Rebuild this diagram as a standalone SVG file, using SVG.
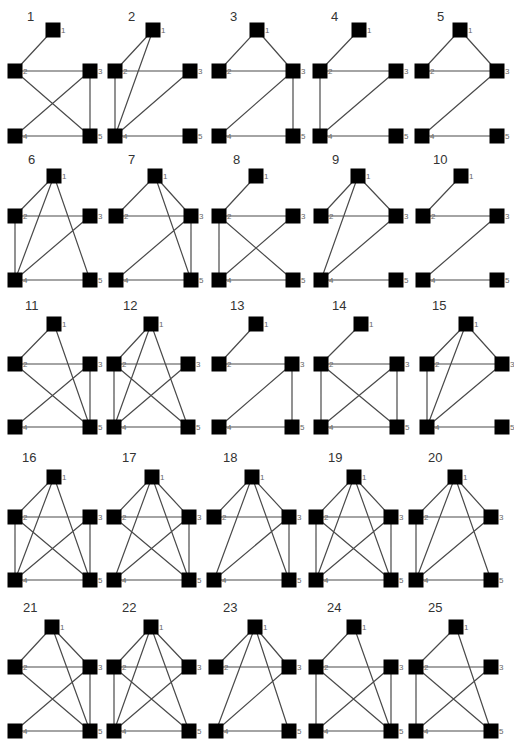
<svg xmlns="http://www.w3.org/2000/svg" width="514" height="746" viewBox="0 0 514 746">
<style>
.bg{fill:#ffffff}
.e{fill:none;stroke:#4a4a4a;stroke-width:1.2}
.n rect{fill:#000}
.n text{font-family:"Liberation Sans",Arial,sans-serif;font-size:8px;fill:#666}
.t{font-family:"Liberation Sans",Arial,sans-serif;font-size:13px;fill:#333}
</style>
<rect class="bg" x="0" y="0" width="514" height="746"/>
<g id="titles">
<text class="t" x="27" y="21">1</text><text class="t" x="128" y="21">2</text><text class="t" x="230" y="21">3</text><text class="t" x="331" y="21">4</text><text class="t" x="437" y="21">5</text>
<text class="t" x="28" y="164">6</text><text class="t" x="128" y="164">7</text><text class="t" x="233" y="164">8</text><text class="t" x="332" y="164">9</text><text class="t" x="433" y="164">10</text>
<text class="t" x="25" y="310">11</text><text class="t" x="123" y="310">12</text><text class="t" x="230" y="310">13</text><text class="t" x="332" y="310">14</text><text class="t" x="432" y="310">15</text>
<text class="t" x="22" y="462">16</text><text class="t" x="122" y="462">17</text><text class="t" x="223" y="462">18</text><text class="t" x="328" y="462">19</text><text class="t" x="428" y="462">20</text>
<text class="t" x="23" y="612">21</text><text class="t" x="122" y="612">22</text><text class="t" x="223" y="612">23</text><text class="t" x="327" y="612">24</text><text class="t" x="428" y="612">25</text>
</g>
<g id="connectors">
<path id="e1" class="e" d="M53,30L15,71M15,71L90,71M15,71L90,136M90,71L15,136M90,71L90,136M15,136L90,136"/>
<path id="e2" class="e" d="M153,30L115,71M153,30L115,136M115,71L190,71M115,71L115,136M190,71L115,136M115,136L190,136"/>
<path id="e3" class="e" d="M257,30L219,71M257,30L293,71M219,71L293,71M293,71L219,136M293,71L293,136M219,136L293,136"/>
<path id="e4" class="e" d="M359,30L320,71M320,71L396,71M320,71L320,136M396,71L320,136M320,136L396,136"/>
<path id="e5" class="e" d="M460,30L422,71M460,30L497,71M422,71L497,71M497,71L422,136M422,136L497,136"/>
<path id="e6" class="e" d="M54,176L15,216M54,176L15,280M54,176L90,280M15,216L90,216M15,216L15,280M90,216L15,280M15,280L90,280"/>
<path id="e7" class="e" d="M155,176L116,216M155,176L191,216M155,176L191,280M116,216L191,216M191,216L116,280M191,216L191,280M116,280L191,280"/>
<path id="e8" class="e" d="M256,176L219,216M219,216L293,216M219,216L219,280M219,216L293,280M293,216L219,280M219,280L293,280"/>
<path id="e9" class="e" d="M358,176L321,216M358,176L396,216M358,176L321,280M321,216L396,216M396,216L321,280M321,280L396,280"/>
<path id="e10" class="e" d="M461,176L423,216M423,216L497,216M497,216L423,280M423,280L497,280"/>
<path id="e11" class="e" d="M54,324L15,364M54,324L90,427M15,364L90,364M15,364L90,427M90,364L15,427M90,364L90,427M15,427L90,427"/>
<path id="e12" class="e" d="M151,324L114,364M151,324L114,427M151,324L188,427M114,364L188,364M114,364L114,427M114,364L188,427M188,364L114,427M114,427L188,427"/>
<path id="e13" class="e" d="M256,324L219,364M219,364L292,364M292,364L219,427M292,364L292,427M219,427L292,427"/>
<path id="e14" class="e" d="M361,324L321,364M321,364L397,364M321,364L321,427M321,364L397,427M397,364L321,427M397,364L397,427M321,427L397,427"/>
<path id="e15" class="e" d="M466,324L427,364M466,324L502,364M466,324L427,427M427,364L502,364M427,364L427,427M502,364L427,427M427,427L502,427"/>
<path id="e16" class="e" d="M54,477L15,517M54,477L15,580M54,477L90,580M15,517L90,517M15,517L15,580M15,517L90,580M90,517L15,580M90,517L90,580M15,580L90,580"/>
<path id="e17" class="e" d="M152,477L114,517M152,477L189,517M152,477L114,580M152,477L189,580M114,517L189,517M114,517L189,580M189,517L114,580M189,517L189,580M114,580L189,580"/>
<path id="e18" class="e" d="M252,477L214,517M252,477L289,517M252,477L214,580M252,477L289,580M214,517L289,517M289,517L214,580M289,517L289,580M214,580L289,580"/>
<path id="e19" class="e" d="M354,477L316,517M354,477L391,517M354,477L316,580M354,477L391,580M316,517L391,517M316,517L316,580M316,517L391,580M391,517L316,580M391,517L391,580M316,580L391,580"/>
<path id="e20" class="e" d="M455,477L416,517M455,477L491,517M455,477L416,580M455,477L491,580M416,517L491,517M416,517L416,580M491,517L416,580M416,580L491,580"/>
<path id="e21" class="e" d="M52,627L15,667M52,627L90,667M52,627L90,731M15,667L90,667M15,667L90,731M90,667L15,731M90,667L90,731M15,731L90,731"/>
<path id="e22" class="e" d="M151,627L114,667M151,627L189,667M151,627L114,731M151,627L189,731M114,667L189,667M114,667L114,731M114,667L189,731M189,667L114,731M114,731L189,731"/>
<path id="e23" class="e" d="M255,627L216,667M255,627L289,667M255,627L216,731M255,627L289,731M216,667L289,667M289,667L216,731M216,731L289,731"/>
<path id="e24" class="e" d="M354,627L316,667M354,627L391,731M316,667L391,667M316,667L316,731M316,667L391,731M391,667L316,731M391,667L391,731M316,731L391,731"/>
<path id="e25" class="e" d="M456,627L416,667M456,627L491,731M416,667L491,667M416,667L416,731M416,667L491,731M491,667L416,731M416,731L491,731"/>
</g>
<g id="nodes">
<g id="g1n1" class="n"><rect x="45.5" y="22.5" width="15" height="15"/><text x="61" y="33">1</text></g>
<g id="g1n2" class="n"><rect x="7.5" y="63.5" width="15" height="15"/><text x="23" y="74">2</text></g>
<g id="g1n3" class="n"><rect x="82.5" y="63.5" width="15" height="15"/><text x="98" y="74">3</text></g>
<g id="g1n4" class="n"><rect x="7.5" y="128.5" width="15" height="15"/><text x="23" y="139">4</text></g>
<g id="g1n5" class="n"><rect x="82.5" y="128.5" width="15" height="15"/><text x="98" y="139">5</text></g>
<g id="g2n1" class="n"><rect x="145.5" y="22.5" width="15" height="15"/><text x="161" y="33">1</text></g>
<g id="g2n2" class="n"><rect x="107.5" y="63.5" width="15" height="15"/><text x="123" y="74">2</text></g>
<g id="g2n3" class="n"><rect x="182.5" y="63.5" width="15" height="15"/><text x="198" y="74">3</text></g>
<g id="g2n4" class="n"><rect x="107.5" y="128.5" width="15" height="15"/><text x="123" y="139">4</text></g>
<g id="g2n5" class="n"><rect x="182.5" y="128.5" width="15" height="15"/><text x="198" y="139">5</text></g>
<g id="g3n1" class="n"><rect x="249.5" y="22.5" width="15" height="15"/><text x="265" y="33">1</text></g>
<g id="g3n2" class="n"><rect x="211.5" y="63.5" width="15" height="15"/><text x="227" y="74">2</text></g>
<g id="g3n3" class="n"><rect x="285.5" y="63.5" width="15" height="15"/><text x="301" y="74">3</text></g>
<g id="g3n4" class="n"><rect x="211.5" y="128.5" width="15" height="15"/><text x="227" y="139">4</text></g>
<g id="g3n5" class="n"><rect x="285.5" y="128.5" width="15" height="15"/><text x="301" y="139">5</text></g>
<g id="g4n1" class="n"><rect x="351.5" y="22.5" width="15" height="15"/><text x="367" y="33">1</text></g>
<g id="g4n2" class="n"><rect x="312.5" y="63.5" width="15" height="15"/><text x="328" y="74">2</text></g>
<g id="g4n3" class="n"><rect x="388.5" y="63.5" width="15" height="15"/><text x="404" y="74">3</text></g>
<g id="g4n4" class="n"><rect x="312.5" y="128.5" width="15" height="15"/><text x="328" y="139">4</text></g>
<g id="g4n5" class="n"><rect x="388.5" y="128.5" width="15" height="15"/><text x="404" y="139">5</text></g>
<g id="g5n1" class="n"><rect x="452.5" y="22.5" width="15" height="15"/><text x="468" y="33">1</text></g>
<g id="g5n2" class="n"><rect x="414.5" y="63.5" width="15" height="15"/><text x="430" y="74">2</text></g>
<g id="g5n3" class="n"><rect x="489.5" y="63.5" width="15" height="15"/><text x="505" y="74">3</text></g>
<g id="g5n4" class="n"><rect x="414.5" y="128.5" width="15" height="15"/><text x="430" y="139">4</text></g>
<g id="g5n5" class="n"><rect x="489.5" y="128.5" width="15" height="15"/><text x="505" y="139">5</text></g>
<g id="g6n1" class="n"><rect x="46.5" y="168.5" width="15" height="15"/><text x="62" y="179">1</text></g>
<g id="g6n2" class="n"><rect x="7.5" y="208.5" width="15" height="15"/><text x="23" y="219">2</text></g>
<g id="g6n3" class="n"><rect x="82.5" y="208.5" width="15" height="15"/><text x="98" y="219">3</text></g>
<g id="g6n4" class="n"><rect x="7.5" y="272.5" width="15" height="15"/><text x="23" y="283">4</text></g>
<g id="g6n5" class="n"><rect x="82.5" y="272.5" width="15" height="15"/><text x="98" y="283">5</text></g>
<g id="g7n1" class="n"><rect x="147.5" y="168.5" width="15" height="15"/><text x="163" y="179">1</text></g>
<g id="g7n2" class="n"><rect x="108.5" y="208.5" width="15" height="15"/><text x="124" y="219">2</text></g>
<g id="g7n3" class="n"><rect x="183.5" y="208.5" width="15" height="15"/><text x="199" y="219">3</text></g>
<g id="g7n4" class="n"><rect x="108.5" y="272.5" width="15" height="15"/><text x="124" y="283">4</text></g>
<g id="g7n5" class="n"><rect x="183.5" y="272.5" width="15" height="15"/><text x="199" y="283">5</text></g>
<g id="g8n1" class="n"><rect x="248.5" y="168.5" width="15" height="15"/><text x="264" y="179">1</text></g>
<g id="g8n2" class="n"><rect x="211.5" y="208.5" width="15" height="15"/><text x="227" y="219">2</text></g>
<g id="g8n3" class="n"><rect x="285.5" y="208.5" width="15" height="15"/><text x="301" y="219">3</text></g>
<g id="g8n4" class="n"><rect x="211.5" y="272.5" width="15" height="15"/><text x="227" y="283">4</text></g>
<g id="g8n5" class="n"><rect x="285.5" y="272.5" width="15" height="15"/><text x="301" y="283">5</text></g>
<g id="g9n1" class="n"><rect x="350.5" y="168.5" width="15" height="15"/><text x="366" y="179">1</text></g>
<g id="g9n2" class="n"><rect x="313.5" y="208.5" width="15" height="15"/><text x="329" y="219">2</text></g>
<g id="g9n3" class="n"><rect x="388.5" y="208.5" width="15" height="15"/><text x="404" y="219">3</text></g>
<g id="g9n4" class="n"><rect x="313.5" y="272.5" width="15" height="15"/><text x="329" y="283">4</text></g>
<g id="g9n5" class="n"><rect x="388.5" y="272.5" width="15" height="15"/><text x="404" y="283">5</text></g>
<g id="g10n1" class="n"><rect x="453.5" y="168.5" width="15" height="15"/><text x="469" y="179">1</text></g>
<g id="g10n2" class="n"><rect x="415.5" y="208.5" width="15" height="15"/><text x="431" y="219">2</text></g>
<g id="g10n3" class="n"><rect x="489.5" y="208.5" width="15" height="15"/><text x="505" y="219">3</text></g>
<g id="g10n4" class="n"><rect x="415.5" y="272.5" width="15" height="15"/><text x="431" y="283">4</text></g>
<g id="g10n5" class="n"><rect x="489.5" y="272.5" width="15" height="15"/><text x="505" y="283">5</text></g>
<g id="g11n1" class="n"><rect x="46.5" y="316.5" width="15" height="15"/><text x="62" y="327">1</text></g>
<g id="g11n2" class="n"><rect x="7.5" y="356.5" width="15" height="15"/><text x="23" y="367">2</text></g>
<g id="g11n3" class="n"><rect x="82.5" y="356.5" width="15" height="15"/><text x="98" y="367">3</text></g>
<g id="g11n4" class="n"><rect x="7.5" y="419.5" width="15" height="15"/><text x="23" y="430">4</text></g>
<g id="g11n5" class="n"><rect x="82.5" y="419.5" width="15" height="15"/><text x="98" y="430">5</text></g>
<g id="g12n1" class="n"><rect x="143.5" y="316.5" width="15" height="15"/><text x="159" y="327">1</text></g>
<g id="g12n2" class="n"><rect x="106.5" y="356.5" width="15" height="15"/><text x="122" y="367">2</text></g>
<g id="g12n3" class="n"><rect x="180.5" y="356.5" width="15" height="15"/><text x="196" y="367">3</text></g>
<g id="g12n4" class="n"><rect x="106.5" y="419.5" width="15" height="15"/><text x="122" y="430">4</text></g>
<g id="g12n5" class="n"><rect x="180.5" y="419.5" width="15" height="15"/><text x="196" y="430">5</text></g>
<g id="g13n1" class="n"><rect x="248.5" y="316.5" width="15" height="15"/><text x="264" y="327">1</text></g>
<g id="g13n2" class="n"><rect x="211.5" y="356.5" width="15" height="15"/><text x="227" y="367">2</text></g>
<g id="g13n3" class="n"><rect x="284.5" y="356.5" width="15" height="15"/><text x="300" y="367">3</text></g>
<g id="g13n4" class="n"><rect x="211.5" y="419.5" width="15" height="15"/><text x="227" y="430">4</text></g>
<g id="g13n5" class="n"><rect x="284.5" y="419.5" width="15" height="15"/><text x="300" y="430">5</text></g>
<g id="g14n1" class="n"><rect x="353.5" y="316.5" width="15" height="15"/><text x="369" y="327">1</text></g>
<g id="g14n2" class="n"><rect x="313.5" y="356.5" width="15" height="15"/><text x="329" y="367">2</text></g>
<g id="g14n3" class="n"><rect x="389.5" y="356.5" width="15" height="15"/><text x="405" y="367">3</text></g>
<g id="g14n4" class="n"><rect x="313.5" y="419.5" width="15" height="15"/><text x="329" y="430">4</text></g>
<g id="g14n5" class="n"><rect x="389.5" y="419.5" width="15" height="15"/><text x="405" y="430">5</text></g>
<g id="g15n1" class="n"><rect x="458.5" y="316.5" width="15" height="15"/><text x="474" y="327">1</text></g>
<g id="g15n2" class="n"><rect x="419.5" y="356.5" width="15" height="15"/><text x="435" y="367">2</text></g>
<g id="g15n3" class="n"><rect x="494.5" y="356.5" width="15" height="15"/><text x="510" y="367">3</text></g>
<g id="g15n4" class="n"><rect x="419.5" y="419.5" width="15" height="15"/><text x="435" y="430">4</text></g>
<g id="g15n5" class="n"><rect x="494.5" y="419.5" width="15" height="15"/><text x="510" y="430">5</text></g>
<g id="g16n1" class="n"><rect x="46.5" y="469.5" width="15" height="15"/><text x="62" y="480">1</text></g>
<g id="g16n2" class="n"><rect x="7.5" y="509.5" width="15" height="15"/><text x="23" y="520">2</text></g>
<g id="g16n3" class="n"><rect x="82.5" y="509.5" width="15" height="15"/><text x="98" y="520">3</text></g>
<g id="g16n4" class="n"><rect x="7.5" y="572.5" width="15" height="15"/><text x="23" y="583">4</text></g>
<g id="g16n5" class="n"><rect x="82.5" y="572.5" width="15" height="15"/><text x="98" y="583">5</text></g>
<g id="g17n1" class="n"><rect x="144.5" y="469.5" width="15" height="15"/><text x="160" y="480">1</text></g>
<g id="g17n2" class="n"><rect x="106.5" y="509.5" width="15" height="15"/><text x="122" y="520">2</text></g>
<g id="g17n3" class="n"><rect x="181.5" y="509.5" width="15" height="15"/><text x="197" y="520">3</text></g>
<g id="g17n4" class="n"><rect x="106.5" y="572.5" width="15" height="15"/><text x="122" y="583">4</text></g>
<g id="g17n5" class="n"><rect x="181.5" y="572.5" width="15" height="15"/><text x="197" y="583">5</text></g>
<g id="g18n1" class="n"><rect x="244.5" y="469.5" width="15" height="15"/><text x="260" y="480">1</text></g>
<g id="g18n2" class="n"><rect x="206.5" y="509.5" width="15" height="15"/><text x="222" y="520">2</text></g>
<g id="g18n3" class="n"><rect x="281.5" y="509.5" width="15" height="15"/><text x="297" y="520">3</text></g>
<g id="g18n4" class="n"><rect x="206.5" y="572.5" width="15" height="15"/><text x="222" y="583">4</text></g>
<g id="g18n5" class="n"><rect x="281.5" y="572.5" width="15" height="15"/><text x="297" y="583">5</text></g>
<g id="g19n1" class="n"><rect x="346.5" y="469.5" width="15" height="15"/><text x="362" y="480">1</text></g>
<g id="g19n2" class="n"><rect x="308.5" y="509.5" width="15" height="15"/><text x="324" y="520">2</text></g>
<g id="g19n3" class="n"><rect x="383.5" y="509.5" width="15" height="15"/><text x="399" y="520">3</text></g>
<g id="g19n4" class="n"><rect x="308.5" y="572.5" width="15" height="15"/><text x="324" y="583">4</text></g>
<g id="g19n5" class="n"><rect x="383.5" y="572.5" width="15" height="15"/><text x="399" y="583">5</text></g>
<g id="g20n1" class="n"><rect x="447.5" y="469.5" width="15" height="15"/><text x="463" y="480">1</text></g>
<g id="g20n2" class="n"><rect x="408.5" y="509.5" width="15" height="15"/><text x="424" y="520">2</text></g>
<g id="g20n3" class="n"><rect x="483.5" y="509.5" width="15" height="15"/><text x="499" y="520">3</text></g>
<g id="g20n4" class="n"><rect x="408.5" y="572.5" width="15" height="15"/><text x="424" y="583">4</text></g>
<g id="g20n5" class="n"><rect x="483.5" y="572.5" width="15" height="15"/><text x="499" y="583">5</text></g>
<g id="g21n1" class="n"><rect x="44.5" y="619.5" width="15" height="15"/><text x="60" y="630">1</text></g>
<g id="g21n2" class="n"><rect x="7.5" y="659.5" width="15" height="15"/><text x="23" y="670">2</text></g>
<g id="g21n3" class="n"><rect x="82.5" y="659.5" width="15" height="15"/><text x="98" y="670">3</text></g>
<g id="g21n4" class="n"><rect x="7.5" y="723.5" width="15" height="15"/><text x="23" y="734">4</text></g>
<g id="g21n5" class="n"><rect x="82.5" y="723.5" width="15" height="15"/><text x="98" y="734">5</text></g>
<g id="g22n1" class="n"><rect x="143.5" y="619.5" width="15" height="15"/><text x="159" y="630">1</text></g>
<g id="g22n2" class="n"><rect x="106.5" y="659.5" width="15" height="15"/><text x="122" y="670">2</text></g>
<g id="g22n3" class="n"><rect x="181.5" y="659.5" width="15" height="15"/><text x="197" y="670">3</text></g>
<g id="g22n4" class="n"><rect x="106.5" y="723.5" width="15" height="15"/><text x="122" y="734">4</text></g>
<g id="g22n5" class="n"><rect x="181.5" y="723.5" width="15" height="15"/><text x="197" y="734">5</text></g>
<g id="g23n1" class="n"><rect x="247.5" y="619.5" width="15" height="15"/><text x="263" y="630">1</text></g>
<g id="g23n2" class="n"><rect x="208.5" y="659.5" width="15" height="15"/><text x="224" y="670">2</text></g>
<g id="g23n3" class="n"><rect x="281.5" y="659.5" width="15" height="15"/><text x="297" y="670">3</text></g>
<g id="g23n4" class="n"><rect x="208.5" y="723.5" width="15" height="15"/><text x="224" y="734">4</text></g>
<g id="g23n5" class="n"><rect x="281.5" y="723.5" width="15" height="15"/><text x="297" y="734">5</text></g>
<g id="g24n1" class="n"><rect x="346.5" y="619.5" width="15" height="15"/><text x="362" y="630">1</text></g>
<g id="g24n2" class="n"><rect x="308.5" y="659.5" width="15" height="15"/><text x="324" y="670">2</text></g>
<g id="g24n3" class="n"><rect x="383.5" y="659.5" width="15" height="15"/><text x="399" y="670">3</text></g>
<g id="g24n4" class="n"><rect x="308.5" y="723.5" width="15" height="15"/><text x="324" y="734">4</text></g>
<g id="g24n5" class="n"><rect x="383.5" y="723.5" width="15" height="15"/><text x="399" y="734">5</text></g>
<g id="g25n1" class="n"><rect x="448.5" y="619.5" width="15" height="15"/><text x="464" y="630">1</text></g>
<g id="g25n2" class="n"><rect x="408.5" y="659.5" width="15" height="15"/><text x="424" y="670">2</text></g>
<g id="g25n3" class="n"><rect x="483.5" y="659.5" width="15" height="15"/><text x="499" y="670">3</text></g>
<g id="g25n4" class="n"><rect x="408.5" y="723.5" width="15" height="15"/><text x="424" y="734">4</text></g>
<g id="g25n5" class="n"><rect x="483.5" y="723.5" width="15" height="15"/><text x="499" y="734">5</text></g>
</g>
</svg>
